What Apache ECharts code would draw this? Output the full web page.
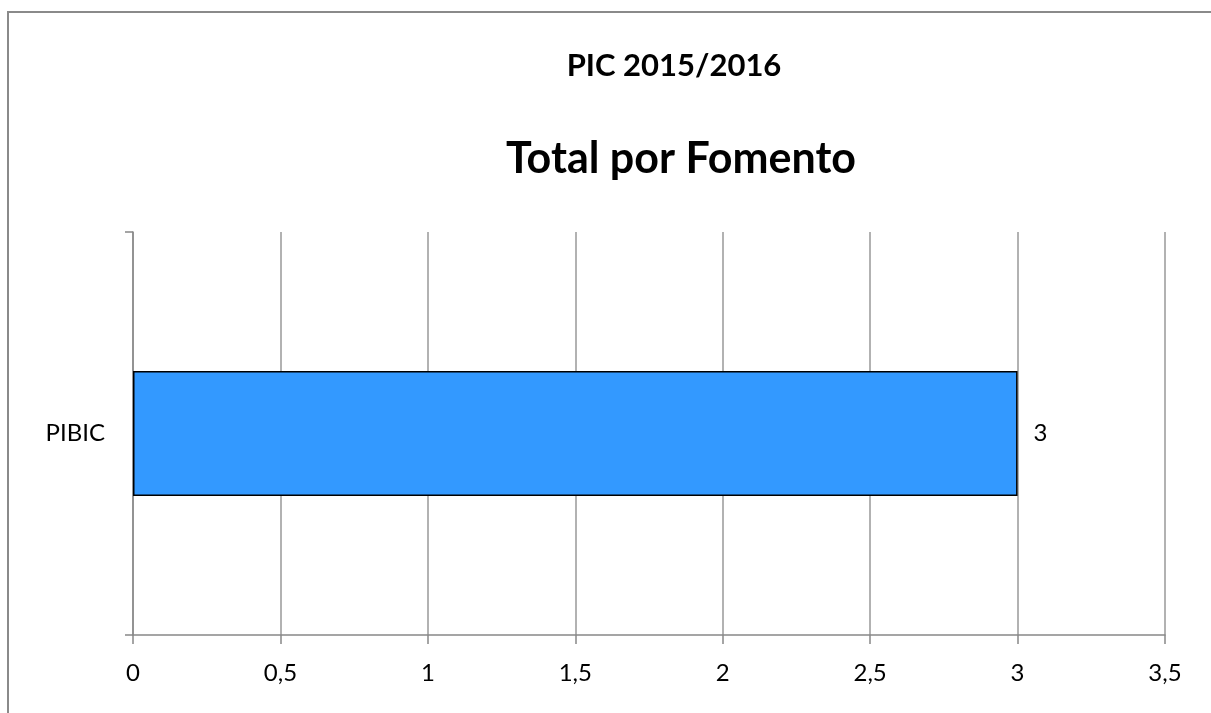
<!DOCTYPE html>
<html>
<head>
<meta charset="utf-8">
<script src="https://cdn.jsdelivr.net/npm/echarts@6/dist/echarts.min.js"></script>
<style>
html,body{margin:0;padding:0;background:#fff;}
#myChart{width:1211px;height:713px;}
</style>
</head>
<body>
<div id="myChart"></div>
<script type="text/javascript">
// dados
var categorias = ['PIBIC'];
var valores = [3];
var eixoMin = 0;
var eixoMax = 3.5;
var eixoPasso = 0.5;

var option = {
	backgroundColor: '#fff',
	animation: false,
	textStyle: { fontFamily: 'Lato' },
	graphic: [
		{
			type: 'rect',
			shape: { x: 8, y: 12, width: 1230, height: 740 },
			style: { fill: 'none', stroke: '#8a8a8a', lineWidth: 2 }
		}
	],
	title: [
		{
			text: 'PIC 2015/2016',
			left: 669, top: 45, textAlign: 'center',
			textStyle: { fontFamily: 'Lato', fontWeight: 'bold', fontSize: 31, color: '#000' }
		},
		{
			text: 'Total por Fomento',
			left: 676, top: 133, textAlign: 'center',
			textStyle: { fontFamily: 'Lato', fontWeight: 'bold', fontSize: 43, color: '#000' }
		}
	],
	grid: { left: 133, right: 46, top: 232, bottom: 78, containLabel: false },
	xAxis: {
		type: 'value',
		min: eixoMin,
		max: eixoMax,
		interval: eixoPasso,
		axisLine: { show: true, lineStyle: { color: '#888', width: 1.5 } },
		axisTick: { show: true, length: 9, lineStyle: { color: '#888', width: 1.5 } },
		splitLine: { show: true, lineStyle: { color: '#999', width: 1.5 } },
		axisLabel: {
			margin: 26,
			fontSize: 24,
			color: '#000',
			formatter: function (v) { return String(v).replace('.', ','); }
		}
	},
	yAxis: {
		type: 'category',
		data: categorias,
		axisLine: { show: true, lineStyle: { color: '#888', width: 1.5 } },
		axisTick: { show: true, length: 8, lineStyle: { color: '#888', width: 1.5 } },
		axisLabel: { margin: 28, fontSize: 24, color: '#000' }
	},
	series: [
		{
			type: 'bar',
			data: valores,
			barWidth: 125,
			itemStyle: { color: '#3399ff', borderColor: '#000', borderWidth: 1.5 },
			label: { show: true, position: 'right', distance: 16, fontSize: 24, color: '#000' }
		}
	]
};
echarts.init(document.getElementById('myChart')).setOption(option);
</script>
</body>
</html>
